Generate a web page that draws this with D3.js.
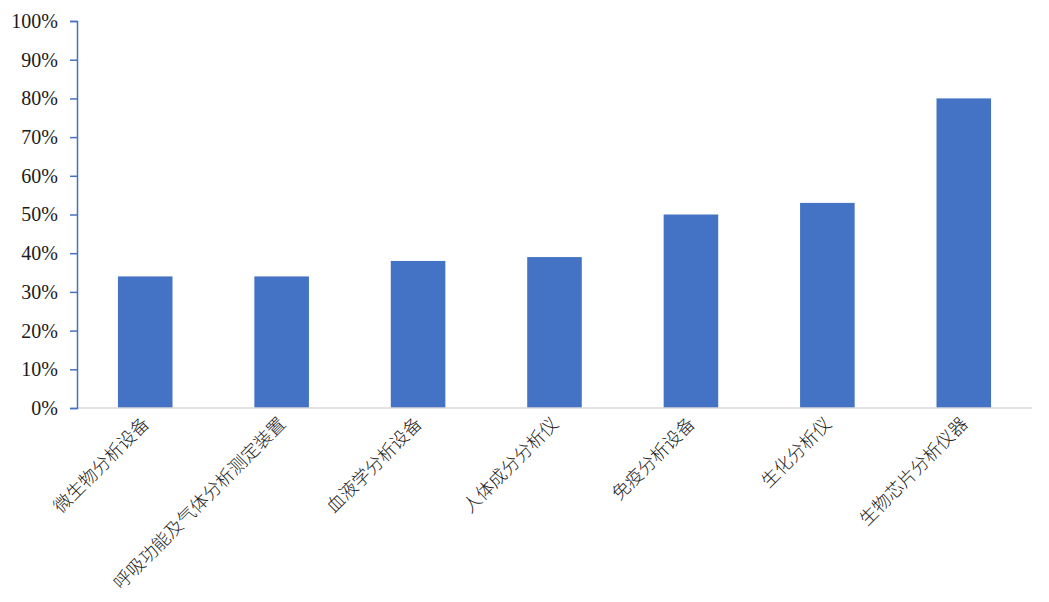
<!DOCTYPE html>
<html>
<head>
<meta charset="utf-8">
<script src="https://cdn.jsdelivr.net/npm/d3@7"></script>
<style>
  html, body { margin: 0; padding: 0; background: #ffffff; }
  svg { display: block; }
</style>
</head>
<body>
<svg id="chart" width="1049" height="602"></svg>
<script>
// Instrument categories and their shares
const categories = [
  "微生物分析设备",
  "呼吸功能及气体分析测定装置",
  "血液学分析设备",
  "人体成分分析仪",
  "免疫分析设备",
  "生化分析仪",
  "生物芯片分析仪器"
];
const shares = [0.34, 0.34, 0.38, 0.39, 0.50, 0.53, 0.80];
const yTickValues = [0, 0.1, 0.2, 0.3, 0.4, 0.5, 0.6, 0.7, 0.8, 0.9, 1.0];

const svg = d3.select("#chart");
const margin = { left: 77, right: 17, top: 21, bottom: 194 };
const width = 1049, height = 602;
const x0 = margin.left, x1 = width - margin.right;
const y0 = height - margin.bottom, y1 = margin.top;

const x = d3.scaleBand()
  .domain(categories)
  .range([x0, x1])
  .paddingInner(0.6)
  .paddingOuter(0.3);

const y = d3.scaleLinear()
  .domain([0, 1])
  .range([y0, y1]);

// bars
svg.append("g")
  .selectAll("rect")
  .data(categories)
  .join("rect")
  .attr("x", d => x(d))
  .attr("width", x.bandwidth())
  .attr("y", (d, i) => y(shares[i]))
  .attr("height", (d, i) => y(0) - y(shares[i]))
  .attr("fill", "#4472C4");

// category axis baseline
svg.append("line")
  .attr("x1", x0).attr("x2", x1)
  .attr("y1", y(0)).attr("y2", y(0))
  .attr("stroke", "#d9d9d9")
  .attr("stroke-width", 1.5);

// value axis
const yAxis = svg.append("g")
  .attr("transform", `translate(${x0},0)`)
  .call(d3.axisLeft(y)
    .tickValues(yTickValues)
    .tickFormat(d3.format(".0%"))
    .tickSize(7)
    .tickSizeOuter(7)
    .tickPadding(12));
yAxis.select(".domain").attr("stroke", "#4472C4").attr("stroke-width", 1.5);
yAxis.selectAll(".tick line").attr("stroke", "#4472C4").attr("stroke-width", 1.5);
yAxis.selectAll(".tick text")
  .attr("fill", "#1a1a1a")
  .style("font-family", "'Liberation Serif', 'DejaVu Serif', serif")
  .style("font-size", "20px");

// rotated category labels
svg.append("g")
  .selectAll("text")
  .data(categories)
  .join("text")
  .attr("transform", d => `translate(${x(d) + x.bandwidth() / 2 + 5},${y(0) + 17}) rotate(-45)`)
  .attr("text-anchor", "end")
  .attr("fill", "#222222")
  .style("font-family", "'Noto Sans CJK SC', sans-serif")
  .style("font-weight", "300")
  .style("font-size", "18px")
  .text(d => d);
</script>
</body>
</html>
